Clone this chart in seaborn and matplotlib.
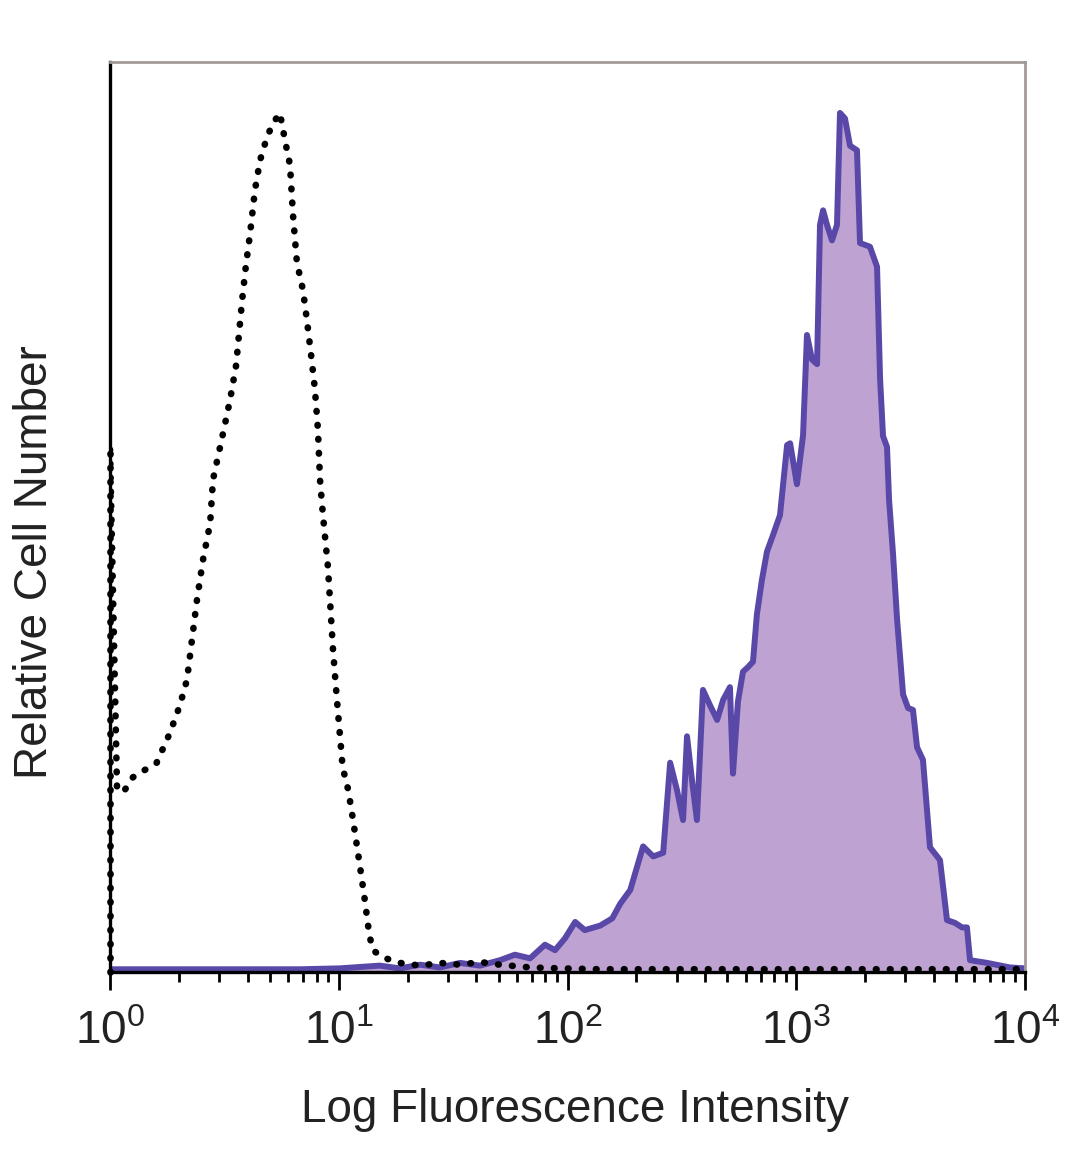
import numpy as np
import pandas as pd
import matplotlib
matplotlib.use("Agg")
import matplotlib.pyplot as plt
import seaborn as sns
from matplotlib.ticker import FixedLocator, LogLocator, NullFormatter, FuncFormatter

# ---------------- data ----------------
# isotype control histogram (dotted black)
iso_x = [1.0, 1.073, 1.14, 1.26, 1.42, 1.60, 1.83, 2.02, 2.17, 2.40, 2.55, 2.74, 2.82,
         3.12, 3.35, 3.56, 3.78, 3.93, 4.09, 4.30, 4.53, 4.81, 5.11, 5.53, 5.82, 6.12,
         6.31, 6.56, 6.98, 7.26, 7.57, 7.87, 8.11, 8.28, 8.53, 8.97, 9.44, 9.82, 10.4,
         11.0, 11.5, 12.4, 13.0, 13.6, 14.1, 15.6, 18.5, 22.7, 27.7, 33.9, 41.4, 50.7,
         68.6, 92.7, 139, 380, 1040, 2860, 10000]
iso_y = [57.4, 20.3, 19.7, 21.4, 22.2, 23.0, 26.3, 29.3, 32.1, 40.9, 45.3, 49.3, 54.1,
         59.2, 62.9, 66.7, 73.8, 77.7, 81.0, 85.9, 89.2, 91.4, 93.1, 94.4, 91.4, 88.7,
         83.2, 78.0, 74.9, 71.6, 67.8, 64.0, 59.6, 54.1, 50.2, 44.5, 35.4, 29.9, 22.5,
         20.0, 17.0, 11.5, 7.9, 4.1, 2.4, 1.6, 1.0, 0.7, 1.0, 0.8, 1.1, 0.8,
         0.5, 0.4, 0.3, 0.3, 0.3, 0.3, 0.3]

# stained sample histogram (filled purple)
stain_x = [1.0, 1.50, 2.47, 4.09, 6.77, 10.1, 15.1, 18.5, 22.7, 27.7, 33.9, 41.4, 50.7,
           58.9, 68.6, 79.7, 88.2, 97.5, 108, 119, 139, 157, 170, 188, 214, 237, 262,
           281, 301, 320, 333, 350, 368, 391, 420, 451, 479, 513, 529, 556, 585, 615,
           647, 673, 708, 745, 791, 849, 912, 940, 1007, 1071, 1114, 1172, 1233, 1270,
           1310, 1363, 1433, 1507, 1553, 1633, 1718, 1843, 1900, 2000, 2100, 2255, 2325,
           2395, 2493, 2545, 2648, 2760, 2931, 3082, 3238, 3373, 3581, 3843, 4250, 4560,
           4940, 5305, 5575, 5750, 6825, 8590, 10000]
stain_y = [0.3, 0.3, 0.3, 0.3, 0.3, 0.4, 0.7, 0.4, 0.8, 0.5, 1.0, 0.7, 1.3,
           1.9, 1.5, 3.0, 2.4, 3.7, 5.5, 4.6, 5.1, 5.9, 7.5, 9.0, 13.8, 12.7, 13.1,
           23.0, 20.0, 16.7, 25.9, 21.1, 16.7, 31.0, 29.3, 27.7, 29.9, 31.3, 21.8, 29.7,
           33.0, 33.5, 34.1, 39.3, 43.1, 46.2, 48.0, 50.2, 57.9, 58.1, 53.6, 59.0, 70.0,
           67.3, 66.8, 82.1, 83.7, 82.1, 80.4, 82.1, 94.4, 93.8, 90.8, 90.3, 80.1, 79.9,
           79.7, 77.5, 65.2, 58.9, 57.7, 51.9, 46.0, 38.7, 30.5, 29.0, 28.8, 24.7, 23.3,
           13.7, 12.3, 5.7, 5.4, 4.9, 4.9, 1.3, 1.0, 0.5, 0.4]

decades = [1, 10, 100, 1000, 10000]
decade_labels = ["0", "1", "2", "3", "4"]

x_label = "Log Fluorescence Intensity"
y_label = "Relative Cell Number"

# ---------------- styling ----------------
sns.set_style("ticks")
plt.rcParams["font.family"] = ["Liberation Sans", "DejaVu Sans"]
plt.rcParams["mathtext.fontset"] = "custom"
plt.rcParams["mathtext.rm"] = "Liberation Sans"

FILL = "#bea3d2"
EDGE = "#5a48a8"
DOTS = (0, (0.1, 2.0))
DOT_LW = 4.8

fig = plt.figure(figsize=(10.8, 11.69), dpi=100)
ax = fig.add_axes([110 / 1080, 1 - 972 / 1169, 915 / 1080, 910 / 1169])
ax.set_xscale("log")

iso = pd.DataFrame({"x": iso_x, "y": iso_y})
stain = pd.DataFrame({"x": stain_x, "y": stain_y})

# purple filled histogram
ax.fill_between(stain["x"], 0, stain["y"], color=FILL, lw=0, zorder=1)
sns.lineplot(data=stain, x="x", y="y", ax=ax, color=EDGE, lw=4.3,
             sort=False, estimator=None, zorder=2)

# isotype dotted histogram
sns.lineplot(data=iso, x="x", y="y", ax=ax, color="black", lw=DOT_LW,
             sort=False, estimator=None, zorder=3)
ax.lines[-1].set_linestyle(DOTS)
ax.lines[-1].set_dash_capstyle("round")
# left edge of the first channel, from the baseline up to its count
ax.plot([iso["x"].iloc[0]] * 2, [0, iso["y"].iloc[0]], color="black", lw=DOT_LW,
        linestyle=DOTS, dash_capstyle="round", zorder=3, clip_on=False)

ax.set_xlim(1, 10000)
ax.set_ylim(0, 100)

# ticks
ax.xaxis.set_major_locator(FixedLocator(decades))
ax.xaxis.set_major_formatter(
    FuncFormatter(lambda v, p: "$\\mathregular{10^{%s}}$" % decade_labels[decades.index(int(round(v)))]
                  if int(round(v)) in decades else ""))
ax.xaxis.set_minor_locator(LogLocator(base=10, subs=np.arange(2, 10), numticks=50))
ax.xaxis.set_minor_formatter(NullFormatter())
ax.tick_params(axis="x", which="major", length=13, width=2.0, color="black",
               labelsize=33, labelcolor="#222222", pad=14, direction="out")
ax.tick_params(axis="x", which="minor", length=7, width=2.0, color="black", direction="out")
ax.tick_params(axis="y", left=False, labelleft=False)

# spines
for s in ["left", "bottom"]:
    ax.spines[s].set_color("black")
    ax.spines[s].set_linewidth(2.4)
for s in ["top", "right"]:
    ax.spines[s].set_visible(True)
    ax.spines[s].set_color("#a39a98")
    ax.spines[s].set_linewidth(2.0)

ax.set_xlabel(x_label, fontsize=33, va="center", color="#222222")
ax.xaxis.set_label_coords(0.508, -0.152)
ax.set_ylabel(y_label, fontsize=33, va="center", color="#222222")
ax.yaxis.set_label_coords(-0.082, 0.45)

fig.savefig("out.png", dpi=100)
